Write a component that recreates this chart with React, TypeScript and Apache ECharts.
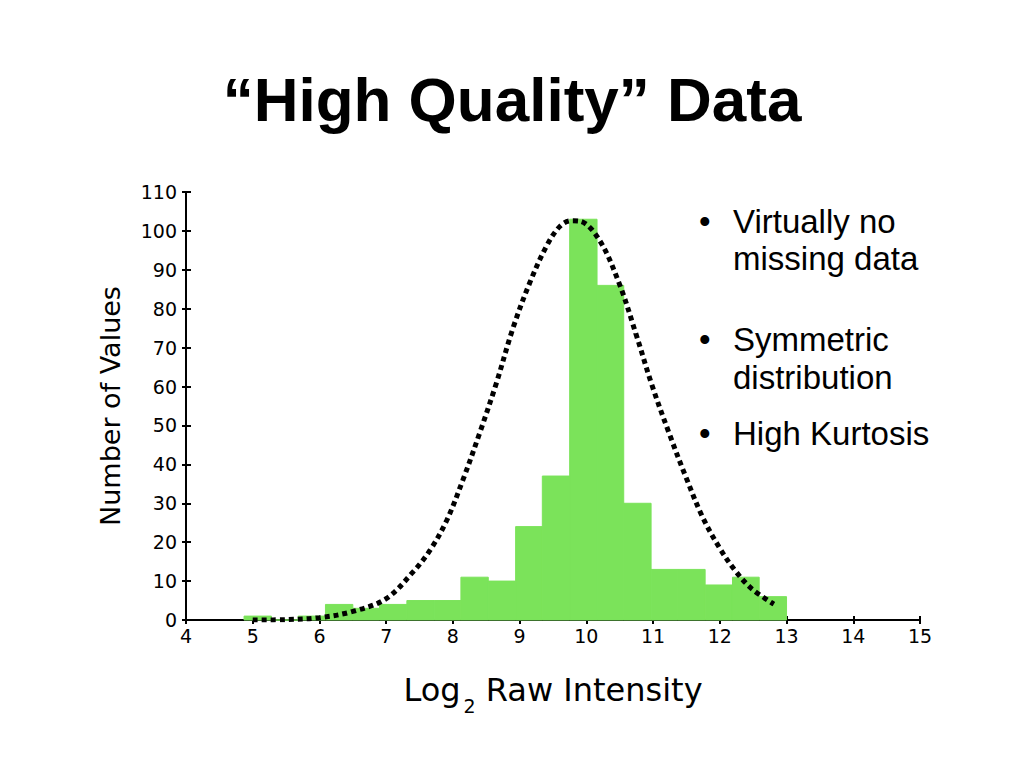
import React, { useEffect, useRef } from "react";
import * as echarts from "echarts";

// Histogram bins (Log2 raw intensity) and counts
const binEdges = [4.87, 5.28, 5.68, 6.09, 6.5, 6.9, 7.31, 7.72, 8.12, 8.53, 8.94, 9.34, 9.75, 10.16, 10.56, 10.97, 11.37, 11.78, 12.19, 12.59, 13.0];
const counts = [1, 0, 1, 4, 3, 4, 5, 5, 11, 10, 24, 37, 103, 86, 30, 13, 13, 9, 11, 6];

// Dotted fitted curve
const curveX = [5.0, 5.5, 6.0, 6.5, 7.0, 7.41, 7.66, 7.91, 8.15, 8.4, 8.65, 8.9, 9.15, 9.4, 9.6, 9.77, 9.9, 10.19, 10.49, 10.74, 10.99, 11.24, 11.49, 11.74, 11.99, 12.23, 12.48, 12.81];
const curveY = [0, 0.1, 0.6, 2.2, 5.5, 12.5, 18, 25.7, 36, 48, 60.8, 75, 86.6, 96, 101.1, 102.6, 102.5, 97.8, 86.6, 73.7, 60, 48, 36.8, 26.5, 18.7, 12.7, 8, 4.1];

const xTicks = [4, 15, 1];
const yTicks = [0, 110, 10];

const titleText = "\u201CHigh Quality\u201D Data";
const bullets = [["Virtually no", "missing data"], ["Symmetric", "distribution"], ["High Kurtosis"]];

const GREEN = "#7be35a";

export default function App() {
  const ref = useRef<HTMLDivElement>(null);
  useEffect(() => {
    if (!ref.current) return;
    const chart = echarts.init(ref.current, null, { renderer: "svg" });

    const axisFont = { fontFamily: "DejaVu Sans", color: "#000" };

    const bulletFs = 33;
    const baselines = [[233, 270.5], [351.5, 389], [445]];
    const graphics: any[] = [];
    bullets.forEach((lines, i) => {
      graphics.push({
        type: "text",
        style: {
          text: "\u2022",
          x: 699,
          y: baselines[i][0] - 0.35 * bulletFs,
          fontSize: bulletFs,
          fontFamily: "Liberation Sans",
          fill: "#000",
          verticalAlign: "middle",
          align: "left",
        },
      });
      lines.forEach((ln, j) => {
        graphics.push({
          type: "text",
          style: {
            text: ln,
            x: 733,
            y: baselines[i][j] - 0.35 * bulletFs,
            fontSize: bulletFs,
            fontFamily: "Liberation Sans",
            fill: "#000",
            verticalAlign: "middle",
            align: "left",
          },
        });
      });
    });

    const tickStyle = { color: "#000", width: 2 };

    chart.setOption({
      animation: false,
      backgroundColor: "#fff",
      title: {
        text: titleText,
        left: "center",
        top: 63,
        textStyle: { fontFamily: "Liberation Sans", fontWeight: "bold", fontSize: 62, color: "#000" },
      },
      grid: { left: 186, right: 104, top: 192, bottom: 148, containLabel: false },
      xAxis: [
        {
          type: "value",
          min: xTicks[0],
          max: xTicks[1],
          interval: xTicks[2],
          position: "bottom",
          axisLine: { lineStyle: { color: "#000", width: 2 } },
          axisTick: { length: 4, lineStyle: tickStyle },
          axisLabel: { ...axisFont, fontSize: 19, margin: 6 },
          splitLine: { show: false },
          name: "{a|Log}{s|2}{a| Raw Intensity}",
          nameLocation: "middle",
          nameGap: 54,
          nameTextStyle: {
            rich: {
              a: { fontFamily: "DejaVu Sans", fontSize: 32, color: "#000", lineHeight: 34, verticalAlign: "top" },
              s: { fontFamily: "DejaVu Sans", fontSize: 19, color: "#000", lineHeight: 19, padding: [22, 0, 0, 3], verticalAlign: "top" },
            },
          },
        },
        {
          type: "value",
          min: xTicks[0],
          max: xTicks[1],
          interval: xTicks[2],
          position: "bottom",
          axisLine: { show: false },
          axisTick: { inside: true, length: 4, lineStyle: tickStyle },
          axisLabel: { show: false },
          splitLine: { show: false },
        },
      ],
      yAxis: [
        {
          type: "value",
          min: yTicks[0],
          max: yTicks[1],
          interval: yTicks[2],
          position: "left",
          axisLine: { show: true, lineStyle: { color: "#000", width: 2 } },
          axisTick: { show: true, length: 4, lineStyle: tickStyle },
          axisLabel: { ...axisFont, fontSize: 19, margin: 9 },
          splitLine: { show: false },
          name: "Number of Values",
          nameLocation: "middle",
          nameGap: 62,
          nameTextStyle: { fontFamily: "DejaVu Sans", fontSize: 27, color: "#000" },
        },
        {
          type: "value",
          min: yTicks[0],
          max: yTicks[1],
          interval: yTicks[2],
          position: "left",
          axisLine: { show: false },
          axisTick: { show: true, inside: true, length: 5, lineStyle: tickStyle },
          axisLabel: { show: false },
          splitLine: { show: false },
        },
      ],
      series: [
        {
          type: "custom",
          xAxisIndex: 0,
          yAxisIndex: 0,
          encode: { x: [0, 1], y: 2 },
          data: counts.map((c, i) => [binEdges[i], binEdges[i + 1], c]),
          renderItem: (params: any, api: any) => {
            const p0 = api.coord([api.value(0), api.value(2)]);
            const p1 = api.coord([api.value(1), 0]);
            return {
              type: "rect",
              shape: { x: p0[0], y: p0[1], width: p1[0] - p0[0], height: p1[1] - p0[1] },
              style: { fill: GREEN, stroke: GREEN, lineWidth: 1 },
            };
          },
          z: 1,
        },
        {
          type: "line",
          xAxisIndex: 0,
          yAxisIndex: 0,
          data: curveX.map((x, i) => [x, curveY[i]]),
          showSymbol: false,
          smooth: 0.35,
          lineStyle: { color: "#000", width: 5, type: [5, 4], cap: "butt" },
          z: 3,
        },
      ],
      graphic: graphics,
    });
    return () => chart.dispose();
  }, []);
  return <div ref={ref} style={{ position: "absolute", left: 0, top: 0, width: 1024, height: 768 }} />;
}
